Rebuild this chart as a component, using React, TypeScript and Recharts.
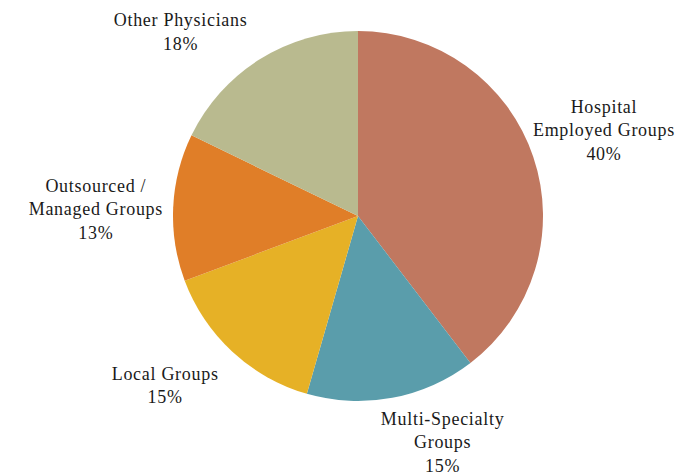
import React from "react";
import { PieChart, Pie, Cell } from "recharts";

const categories = [
  "Hospital\nEmployed Groups",
  "Multi-Specialty\nGroups",
  "Local Groups",
  "Outsourced /\nManaged Groups",
  "Other Physicians",
];
const shares = [40, 15, 15, 13, 18];
const percentLabels = ["40%", "15%", "15%", "13%", "18%"];
const colors = ["#C07860", "#5A9DAB", "#E6B126", "#E07E28", "#B9BA8F"];

const data = categories.map((name, i) => ({ name, value: shares[i], pct: percentLabels[i] }));

const FONT = 18;
const LINE = 23.5;
const CHAR_W = 8.2;
const RAD = Math.PI / 180;
// small label placement nudges (label layout only)
const NUDGE: [number, number][] = [
  [3, -12],
  [37, 0],
  [-27, 9],
  [-10, 4],
  [-39, 1],
];

const renderLabel = (props: any) => {
  const { cx, cy, midAngle, outerRadius, index } = props;
  const lines = [...categories[index].split("\n"), percentLabels[index]];
  const w = Math.max(...lines.map((l) => l.length)) * CHAR_W;
  const h = lines.length * LINE;
  const gap = 10;
  const dx = Math.cos(-midAngle * RAD);
  const dy = Math.sin(-midAngle * RAD);
  const ax = cx + (outerRadius + gap) * dx;
  const ay = cy + (outerRadius + gap) * dy;
  const bx = ax + dx * (w / 2) + NUDGE[index][0];
  const by = ay + dy * (h / 2) + NUDGE[index][1];
  const top = by - h / 2 + LINE / 2;
  return (
    <text
      x={bx}
      y={top}
      textAnchor="middle"
      dominantBaseline="central"
      fontFamily="'Liberation Serif', 'Times New Roman', serif"
      fontSize={FONT}
      letterSpacing={0.7}
      fill="#1a1a1a"
    >
      {lines.map((l, i) => (
        <tspan key={i} x={bx} y={top + i * LINE}>
          {l}
        </tspan>
      ))}
    </text>
  );
};

export default function App() {
  return (
    <div style={{ position: "absolute", left: 0, top: 0, background: "#fff" }}>
      <PieChart width={685} height={474} margin={{ top: 0, right: 0, bottom: 0, left: 0 }}>
        <Pie
          data={data}
          dataKey="value"
          nameKey="name"
          cx={358}
          cy={216}
          outerRadius={185}
          startAngle={90}
          endAngle={-270}
          stroke="none"
          label={renderLabel}
          labelLine={false}
          isAnimationActive={false}
        >
          {data.map((d, i) => (
            <Cell key={d.name} fill={colors[i]} />
          ))}
        </Pie>
      </PieChart>
    </div>
  );
}
